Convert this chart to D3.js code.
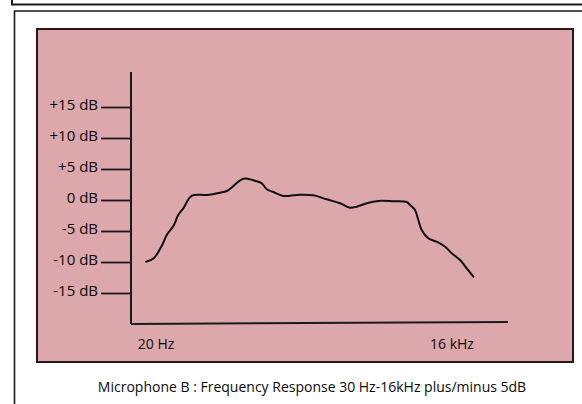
<!DOCTYPE html>
<html>
<head>
<meta charset="utf-8">
<script src="https://cdn.jsdelivr.net/npm/d3@7"></script>
<style>
  html, body { margin: 0; padding: 0; background: #ffffff; }
  svg { display: block; }
  text { font-family: "Open Sans", "Noto Sans", sans-serif; fill: #0a0a0a; }
</style>
</head>
<body>
<svg id="chart" width="582" height="404"></svg>
<script>
// ---- data ----
const yTickValues = [15, 10, 5, 0, -5, -10, -15];
const yTickLabels = ["+15 dB", "+10 dB", "+5 dB", "0 dB", "-5 dB", "-10 dB", "-15 dB"];
const xLabelValues = [20, 16000];
const xLabels = ["20 Hz", "16 kHz"];
const freqHz = [16, 19, 23, 25.5, 30, 33, 37, 45, 63, 85, 99, 115, 128, 144, 161, 187, 218, 244, 283, 354, 412, 517, 698, 945, 1275, 1600, 1860, 2330, 3030, 4250, 5750, 6200, 6940, 7480, 8070, 9370, 11300, 13700, 15900, 19200, 22300, 25900];
const responseDb = [-9.95, -9.4, -7.26, -5.65, -4.03, -2.42, -1.34, 0.69, 0.81, 1.18, 1.45, 2.26, 2.95, 3.44, 3.39, 3.11, 2.69, 1.73, 1.29, 0.65, 0.69, 0.85, 0.76, 0.11, -0.53, -1.24, -1.08, -0.53, -0.16, -0.21, -0.32, -0.81, -1.61, -3.23, -4.84, -6.18, -6.73, -7.53, -8.6, -9.68, -11.02, -12.37];
const caption = "Microphone B : Frequency Response 30 Hz-16kHz plus/minus 5dB";

// ---- layout ----
const svg = d3.select("#chart");
const panel = { x: 37, y: 29, w: 536, h: 333 };
const axisX = 131;

const x = d3.scaleLog().domain([20, 16000]).range([156, 452]);
const y = d3.scaleLinear().domain([-15, 15]).range([293, 107]);

// outer document frames
svg.append("path")
  .attr("d", "M12,-2 L12,4.5 L590,4.5")
  .attr("fill", "none").attr("stroke", "#1a1a1a").attr("stroke-width", 2);
svg.append("path")
  .attr("d", "M14.5,410 L14.5,11 L590,11")
  .attr("fill", "none").attr("stroke", "#1a1a1a").attr("stroke-width", 1.6);

// pink panel
svg.append("rect")
  .attr("x", panel.x).attr("y", panel.y)
  .attr("width", panel.w).attr("height", panel.h)
  .attr("fill", "#dca8ab").attr("stroke", "#2a1616").attr("stroke-width", 2);

// y axis
const yAxis = d3.axisLeft(y)
  .tickValues(yTickValues)
  .tickSize(30)
  .tickPadding(3)
  .tickFormat((d, i) => yTickLabels[i]);

const gy = svg.append("g")
  .attr("transform", `translate(${axisX},0)`)
  .call(yAxis);
gy.select(".domain").remove();
gy.selectAll(".tick line").attr("stroke", "#1a1a1a").attr("stroke-width", 1.8);
gy.selectAll(".tick text")
  .attr("font-size", 15)
  .attr("fill", "#0a0a0a")
  .attr("dy", "0.15em");

// axis lines (hand drawn look)
const yTop = y(15) - 35;
const yBottom = y(-15) + 31;
svg.append("line")
  .attr("x1", axisX).attr("x2", axisX)
  .attr("y1", yTop).attr("y2", yBottom)
  .attr("stroke", "#1a1a1a").attr("stroke-width", 2);
svg.append("line")
  .attr("x1", axisX).attr("y1", yBottom)
  .attr("x2", 508).attr("y2", yBottom - 2)
  .attr("stroke", "#1a1a1a").attr("stroke-width", 2);

// x labels
svg.selectAll(".xlab")
  .data(xLabelValues)
  .enter().append("text")
  .attr("class", "xlab")
  .attr("x", d => x(d))
  .attr("y", yBottom + 25)
  .attr("text-anchor", "middle")
  .attr("font-size", 14)
  .text((d, i) => xLabels[i]);

// response curve
const pts = freqHz.map((f, i) => [f, responseDb[i]]);
const line = d3.line()
  .x(d => x(d[0]))
  .y(d => y(d[1]))
  .curve(d3.curveCatmullRom.alpha(0.5));
svg.append("path")
  .datum(pts)
  .attr("d", line)
  .attr("fill", "none")
  .attr("stroke", "#111")
  .attr("stroke-width", 2)
  .attr("stroke-linejoin", "round")
  .attr("stroke-linecap", "round");

// caption
svg.append("text")
  .attr("x", 312)
  .attr("y", 392)
  .attr("text-anchor", "middle")
  .attr("font-size", 14)
  .text(caption);
</script>
</body>
</html>
